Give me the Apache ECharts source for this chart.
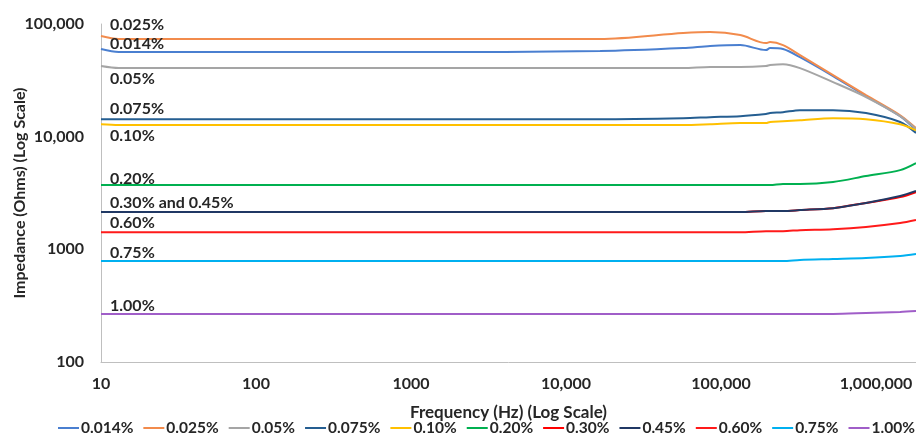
<!DOCTYPE html>
<html>
<head>
<meta charset="utf-8">
<script src="https://cdn.jsdelivr.net/npm/echarts@6/dist/echarts.min.js"></script>
<style>
  html, body { margin: 0; padding: 0; background: #fff; }
  #chart { width: 916px; height: 435px; }
</style>
</head>
<body>
<div id="chart"></div>
<script>
// frequency points (Hz) shared by all curves
var freqs = [10, 13, 1000, 16600, 57000, 85000, 133000, 195000, 207000, 251000, 323000, 528000, 861000, 1430000, 1810000];

var names = ['0.014%', '0.025%', '0.05%', '0.075%', '0.10%', '0.20%', '0.30%', '0.45%', '0.60%', '0.75%', '1.00%'];
var colors = ['#4A7FD0', '#F28B4C', '#A5A5A5', '#255E91', '#FFC000', '#00B050', '#FF0000', '#203864', '#FF1A1A', '#00B0F0', '#A05EC8'];

// impedance (Ohms)
var z014 = [59900, 56300, 56300, 57500, 61100, 63700, 65000, 58700, 61100, 59900, 50800, 34500, 22900, 15200, 11400];
var z025 = [78100, 73500, 73500, 73500, 83000, 84800, 79700, 67700, 69100, 65000, 53000, 35200, 23400, 15500, 11900];
var z05 = [42300, 40600, 40600, 40600, 40600, 41500, 41500, 42300, 43200, 44000, 40600, 30500, 22500, 15200, 11700];
var z075 = [14300, 14300, 14300, 14300, 14600, 14900, 15200, 15900, 16200, 16500, 17200, 17200, 16200, 13500, 10800];
var z10 = [12900, 12700, 12700, 12700, 12700, 12900, 13200, 13200, 13500, 13700, 14000, 14600, 14300, 12900, 11400];
var z20 = [3720, 3720, 3720, 3720, 3720, 3720, 3720, 3720, 3720, 3800, 3800, 3960, 4470, 5050, 5830];
var z30 = [2140, 2140, 2140, 2140, 2140, 2140, 2140, 2190, 2190, 2190, 2230, 2320, 2580, 2910, 3220];
var z45 = [2140, 2140, 2140, 2140, 2140, 2140, 2140, 2190, 2190, 2190, 2230, 2320, 2580, 2970, 3290];
var z60 = [1420, 1420, 1420, 1420, 1420, 1420, 1420, 1450, 1450, 1450, 1480, 1510, 1580, 1710, 1820];
var z75 = [787, 787, 787, 787, 787, 787, 787, 787, 787, 787, 804, 820, 837, 873, 908];
var z100 = [267, 267, 267, 267, 267, 267, 267, 267, 267, 267, 267, 267, 272, 278, 283];

var values = [z014, z025, z05, z075, z10, z20, z30, z45, z60, z75, z100];

var xLabels = { 10: '10', 100: '100', 1000: '1000', 10000: '10,000', 100000: '100,000', 1000000: '1,000,000' };
var yLabels = { 100: '100', 1000: '1000', 10000: '10,000', 100000: '100,000' };

// in-plot annotations
var notes = ['0.025%', '0.014%', '0.05%', '0.075%', '0.10%', '0.20%', '0.30% and 0.45%', '0.60%', '0.75%', '1.00%'];
var noteY = [25, 44, 79, 109, 136, 179, 203, 223, 253, 306];

var font = 'Lato';
var txt = '#262626';

var series = names.map(function(n, i) {
  return {
    name: n,
    type: 'line',
    showSymbol: false,
    smooth: 0.3,
    lineStyle: { width: 2, color: colors[i] },
    itemStyle: { color: colors[i] },
    data: freqs.map(function(f, j) { return [f, values[i][j]]; })
  };
});

var myChart = echarts.init(document.getElementById('chart'));
myChart.setOption({
  backgroundColor: '#fff',
  animation: false,
  color: colors,
  grid: { left: 101, right: 0, top: 24, bottom: 73, outerBoundsMode: 'none', containLabel: false },
  legend: {
    data: names,
    left: 58,
    top: 420,
    padding: 0,
    icon: 'rect',
    itemWidth: 21,
    itemHeight: 2,
    itemGap: 10,
    textStyle: { fontFamily: font, fontWeight: 'bold', fontSize: 15.5, color: txt, padding: [0, 0, 0, -3] }
  },
  xAxis: {
    type: 'log',
    logBase: 10,
    min: 10,
    max: 1810000,
    name: 'Frequency (Hz) (Log Scale)',
    nameLocation: 'middle',
    nameGap: 42,
    nameMoveOverlap: false,
    nameTextStyle: { fontFamily: font, fontWeight: 'bold', fontSize: 17, color: txt },
    axisLine: { lineStyle: { color: '#BFBFBF', width: 1 } },
    axisTick: { show: false },
    splitLine: { show: false },
    axisLabel: {
      margin: 14,
      showMaxLabel: false,
      fontFamily: font, fontWeight: 'bold', fontSize: 16, color: txt,
      formatter: function(v) { return xLabels[Math.round(v)] || ''; }
    }
  },
  yAxis: {
    type: 'log',
    logBase: 10,
    min: 100,
    max: 100000,
    name: 'Impedance (Ohms) (Log Scale)',
    nameLocation: 'middle',
    nameGap: 73,
    nameMoveOverlap: false,
    nameTextStyle: { fontFamily: font, fontWeight: 'bold', fontSize: 16, color: txt },
    axisLine: { show: true, lineStyle: { color: '#BFBFBF', width: 1 } },
    axisTick: { show: false },
    splitLine: { show: false },
    axisLabel: {
      margin: 17,
      fontFamily: font, fontWeight: 'bold', fontSize: 16, color: txt,
      formatter: function(v) { return yLabels[Math.round(v)] || ''; }
    }
  },
  graphic: notes.map(function(t, i) {
    return {
      type: 'text',
      x: 110,
      y: noteY[i],
      z: 100,
      style: { text: t, fill: txt, font: 'bold 16px ' + font, verticalAlign: 'middle' }
    };
  }),
  series: series
});
</script>
</body>
</html>
